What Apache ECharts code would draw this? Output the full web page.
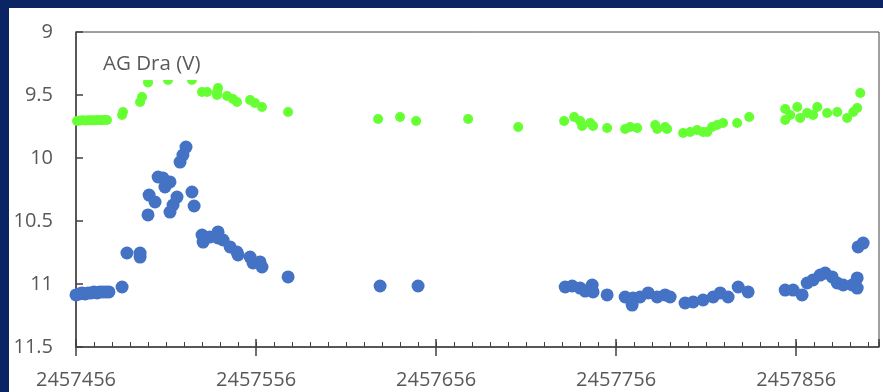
<!DOCTYPE html>
<html>
<head>
<meta charset="utf-8">
<script src="https://cdn.jsdelivr.net/npm/echarts@6/dist/echarts.min.js"></script>
<style>
  html, body { margin: 0; padding: 0; background: #0B2463; width: 883px; height: 392px; overflow: hidden; }
  #chart { position: absolute; left: 9px; top: 8px; width: 874px; height: 384px; background: #ffffff; }
</style>
</head>
<body>
<div id="chart"></div>
<script>
// ---- Data ----
const titleText = 'AG Dra (V)';
const xTickLabels = [2457456, 2457556, 2457656, 2457756, 2457856];
const yTickLabels = [9, 9.5, 10, 10.5, 11, 11.5];

const greenJD = [
  2457456.6, 2457458.2, 2457459.9, 2457461.6, 2457463.2, 2457464.9, 2457466.6, 2457468.2, 2457469.9, 2457471.6, 2457473.2,
  2457481.6, 2457482.1, 2457491.6, 2457492.7, 2457496.0, 2457507.1, 2457520.4,
  2457526.0, 2457528.8, 2457534.3, 2457534.3, 2457534.9, 2457539.9, 2457543.2, 2457545.4, 2457552.7, 2457555.4, 2457559.3, 2457573.8,
  2457623.8, 2457636.0, 2457644.9, 2457673.8, 2457701.6,
  2457727.1, 2457732.7, 2457736.0, 2457737.1, 2457741.6, 2457743.2, 2457751.0, 2457761.0, 2457763.8, 2457767.7,
  2457777.7, 2457778.8, 2457783.2, 2457784.3, 2457793.2, 2457797.1, 2457801.0, 2457804.3, 2457806.6, 2457809.3, 2457812.1,
  2457815.4, 2457823.2, 2457829.9,
  2457849.9, 2457849.9, 2457852.7, 2457856.6, 2457858.2, 2457862.1, 2457865.4, 2457867.7, 2457873.2, 2457878.8, 2457884.3,
  2457887.7, 2457889.9, 2457891.6
];
const greenMag = [
  9.706, 9.702, 9.700, 9.702, 9.700, 9.700, 9.700, 9.698, 9.700, 9.698, 9.698,
  9.659, 9.635, 9.556, 9.516, 9.400, 9.380, 9.380,
  9.476, 9.476, 9.476, 9.500, 9.444, 9.508, 9.532, 9.556, 9.540, 9.563, 9.595, 9.635,
  9.690, 9.675, 9.706, 9.690, 9.754,
  9.706, 9.675, 9.706, 9.746, 9.722, 9.746, 9.762, 9.770, 9.754, 9.762,
  9.738, 9.770, 9.754, 9.770, 9.802, 9.794, 9.778, 9.794, 9.794, 9.754, 9.738,
  9.722, 9.722, 9.675,
  9.611, 9.698, 9.659, 9.595, 9.683, 9.643, 9.659, 9.595, 9.643, 9.635, 9.683,
  9.635, 9.603, 9.484
];

const blueJD = [
  2457456.0, 2457457.7, 2457459.3, 2457461.0, 2457462.7, 2457464.3, 2457466.0, 2457467.7, 2457469.3, 2457471.0, 2457472.7, 2457474.3,
  2457481.6, 2457484.3, 2457491.6, 2457491.6,
  2457496.0, 2457496.6, 2457499.9, 2457501.6, 2457504.3, 2457505.4, 2457508.2, 2457508.2, 2457509.9, 2457512.1, 2457513.8, 2457515.4, 2457517.1, 2457520.4, 2457521.6,
  2457526.0, 2457526.6, 2457530.4, 2457534.9, 2457534.9, 2457537.7, 2457541.6, 2457545.4, 2457546.0, 2457552.7, 2457554.3, 2457558.2, 2457559.3, 2457573.8,
  2457624.9, 2457646.0,
  2457727.7, 2457731.6, 2457736.0, 2457738.8, 2457742.7, 2457743.2, 2457751.0, 2457761.0, 2457764.9, 2457765.4, 2457769.3, 2457773.8, 2457778.8, 2457783.2, 2457786.0,
  2457794.3, 2457798.8, 2457804.3, 2457809.9, 2457813.8, 2457818.2, 2457823.8, 2457829.3,
  2457849.9, 2457854.3, 2457859.3, 2457862.1, 2457865.4, 2457869.3, 2457872.1, 2457876.0, 2457878.8, 2457882.1, 2457887.1, 2457889.9, 2457889.9, 2457890.4, 2457893.2
];
const blueMag = [
  11.087, 11.079, 11.071, 11.079, 11.071, 11.071, 11.063, 11.071, 11.063, 11.063, 11.063, 11.063,
  11.024, 10.754, 10.754, 10.786,
  10.452, 10.294, 10.349, 10.151, 10.159, 10.230, 10.190, 10.429, 10.373, 10.310, 10.032, 9.976, 9.913, 10.270, 10.381,
  10.611, 10.667, 10.627, 10.587, 10.635, 10.651, 10.706, 10.746, 10.770, 10.786, 10.833, 10.825, 10.865, 10.944,
  11.016, 11.016,
  11.024, 11.016, 11.032, 11.056, 11.008, 11.063, 11.087, 11.103, 11.167, 11.111, 11.103, 11.071, 11.103, 11.087, 11.103,
  11.151, 11.143, 11.127, 11.103, 11.071, 11.103, 11.024, 11.063,
  11.048, 11.048, 11.087, 10.992, 10.968, 10.929, 10.913, 10.944, 10.992, 11.008, 11.008, 10.952, 11.032, 10.706, 10.675
];

// ---- Chart ----
const xMin = xTickLabels[0];
const xMax = 2457902;
const axisColor = '#404040';
const textColor = '#595959';
const fontFamily = '"Open Sans", "Noto Sans", sans-serif';

const greenData = greenJD.map((x, i) => [x, greenMag[i]]);
const blueData = blueJD.map((x, i) => [x, blueMag[i]]);

const chart = echarts.init(document.getElementById('chart'), null, { renderer: 'canvas' });
chart.setOption({
  animation: false,
  backgroundColor: '#ffffff',
  title: {
    text: titleText,
    left: 86,
    top: 38,
    padding: [8, 8, 5, 8],
    backgroundColor: '#ffffff',
    z: 10,
    textStyle: { color: textColor, fontSize: 20.5, fontWeight: 'normal', fontFamily: fontFamily }
  },
  grid: {
    left: 67, top: 24, right: 4, bottom: 45,
    show: true, borderColor: axisColor, borderWidth: 1, backgroundColor: '#ffffff'
  },
  xAxis: [
    {
      type: 'value', min: xMin, max: xMax, interval: 100,
      axisLine: { show: true, onZero: false, lineStyle: { color: axisColor, width: 1.5 } },
      axisTick: { show: true, inside: false, length: 9, lineStyle: { color: axisColor, width: 1.5 } },
      axisLabel: {
        color: textColor, fontSize: 20, fontFamily: fontFamily, margin: 23,
        showMaxLabel: false,
        formatter: v => (xTickLabels.indexOf(v) >= 0 ? String(v) : '')
      },
      splitLine: { show: false }
    },
    {
      type: 'value', min: xMin, max: xMax, interval: 100, position: 'bottom',
      axisLine: { show: false },
      axisTick: { show: true, inside: true, length: 8, lineStyle: { color: axisColor, width: 1.5 } },
      axisLabel: { show: false },
      splitLine: { show: false }
    },
    {
      type: 'value', min: xMin, max: xMax, interval: 10, position: 'bottom',
      axisLine: { show: false },
      axisTick: { show: true, inside: true, length: 5, lineStyle: { color: axisColor, width: 1 } },
      axisLabel: { show: false },
      splitLine: { show: false }
    }
  ],
  yAxis: {
    type: 'value', inverse: true, min: yTickLabels[0], max: yTickLabels[yTickLabels.length - 1], interval: 0.5,
    axisLine: { show: true, onZero: false, lineStyle: { color: axisColor, width: 1.5 } },
    axisTick: { show: true, inside: true, length: 7, lineStyle: { color: axisColor, width: 1.5 } },
    axisLabel: { color: textColor, fontSize: 20, fontFamily: fontFamily, margin: 23 },
    splitLine: { show: false }
  },
  series: [
    {
      name: 'B', type: 'scatter', xAxisIndex: 0, data: blueData, z: 2,
      symbol: 'circle', symbolSize: 13, itemStyle: { color: '#4472C4', opacity: 1 }
    },
    {
      name: 'V', type: 'scatter', xAxisIndex: 0, data: greenData, z: 2,
      symbol: 'circle', symbolSize: 10, itemStyle: { color: '#66FF33', opacity: 1 }
    }
  ]
});
</script>
</body>
</html>
